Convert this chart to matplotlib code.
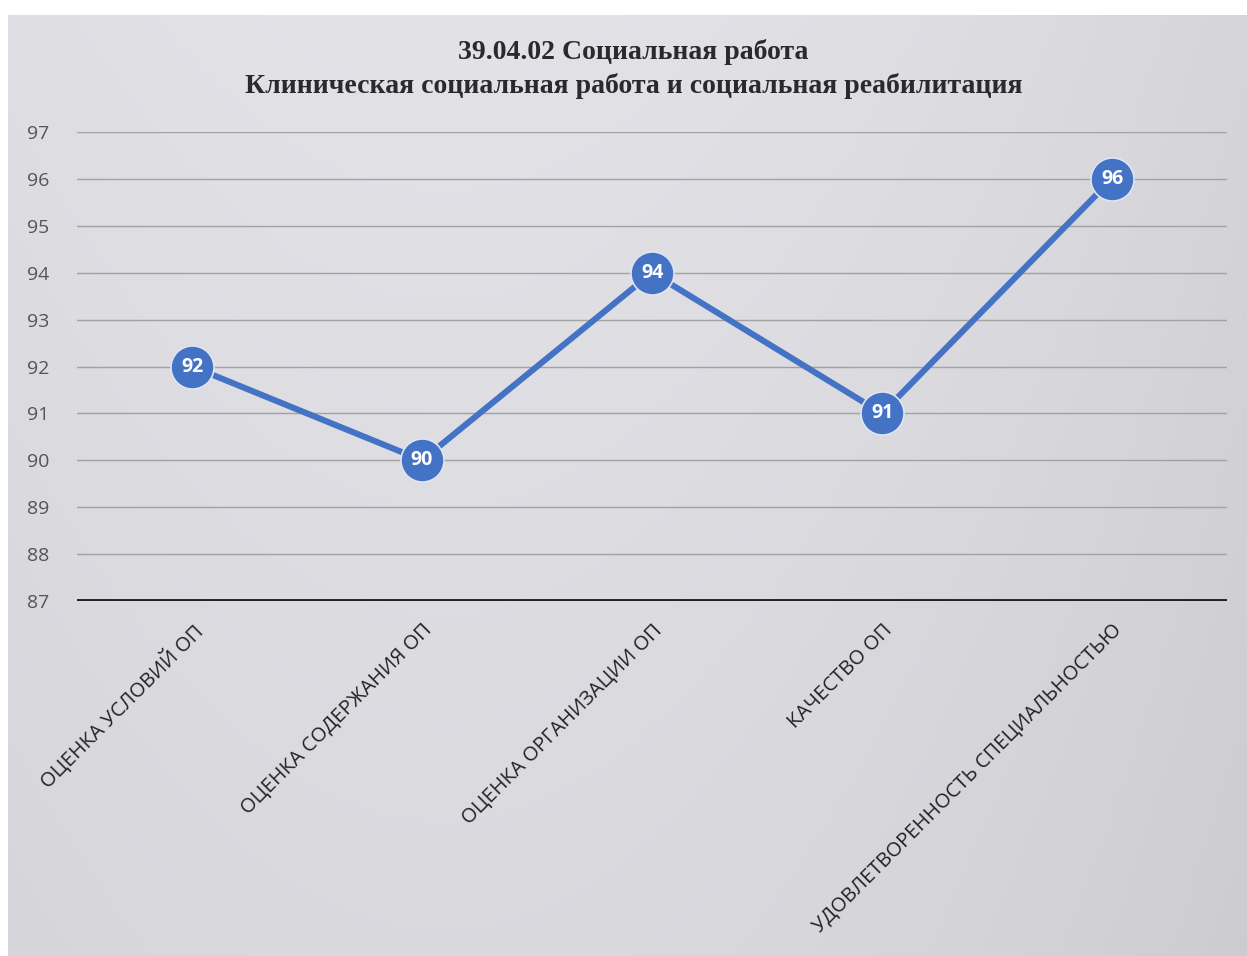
import matplotlib.pyplot as plt
import numpy as np

categories = ['ОЦЕНКА УСЛОВИЙ ОП', 'ОЦЕНКА СОДЕРЖАНИЯ ОП', 'ОЦЕНКА ОРГАНИЗАЦИИ ОП',
              'КАЧЕСТВО ОП', 'УДОВЛЕТВОРЕННОСТЬ СПЕЦИАЛЬНОСТЬЮ']
values = [92, 90, 94, 91, 96]
yticks = list(range(87, 98))
title = "39.04.02 Социальная работа\nКлиническая социальная работа и социальная реабилитация"

fig = plt.figure(figsize=(12.47, 9.56), dpi=100, facecolor='white')

# scanned page background: light grey panel with soft gradient
bg = fig.add_axes([8 / 1247, 0, 1 - 8 / 1247, 1 - 15 / 956])
gy, gx = np.mgrid[0:1:200j, 0:1:200j]
shade = 0.885 - 0.035 * gy - 0.03 * (gx - 0.35) ** 2 * 4
rgb = np.dstack([shade, shade, shade + 0.02])
bg.imshow(np.clip(rgb, 0, 1), aspect='auto', extent=[0, 1, 0, 1], origin='upper')
bg.axis('off')

ax = fig.add_axes([77 / 1247, 1 - 601 / 956, 1150 / 1247, 469 / 956])
ax.patch.set_alpha(0)
x = np.arange(len(categories))
ax.plot(x, values, color='#4472C4', lw=4.4, marker='o', ms=31,
        mfc='#4472C4', mec='#dfe6f3', mew=1.2, zorder=3)
for xi, v in zip(x, values):
    ax.text(xi, v, str(v), ha='center', va='center', color='white',
            fontsize=14, fontweight='bold', family='Open Sans', zorder=4)

ax.set_xlim(-0.5, 4.5)
ax.set_ylim(87, 97)
ax.set_yticks(yticks)
ax.set_yticklabels([str(t) for t in yticks], family='Open Sans', fontsize=14, color='#555555')
for t in yticks[1:]:
    ax.axhline(t, color='#a2a2a2', lw=1.0, zorder=1)
ax.axhline(87, color='#222222', lw=2.8, zorder=2)
ax.set_xticks(x)
ax.set_xticklabels(categories, rotation=45, ha='right', rotation_mode='anchor',
                   family='Open Sans', fontsize=14.5, color='#222222')
ax.tick_params(axis='both', length=0)
ax.tick_params(axis='x', pad=14)
ax.tick_params(axis='y', pad=20)
for s in ax.spines.values():
    s.set_visible(False)

fig.text(0.508, 1 - 69 / 956, title, ha='center', va='center',
         family='Liberation Serif', fontweight='bold', fontsize=20,
         color='#2a2a2a', linespacing=1.4)

fig.savefig('out.png', dpi=100)
